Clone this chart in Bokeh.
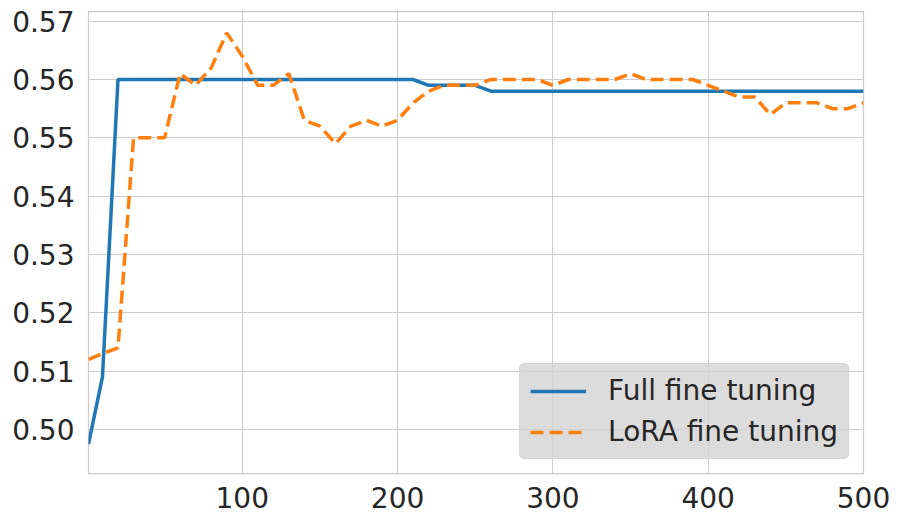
from bokeh.plotting import figure
from bokeh.models import Range1d, FixedTicker, PrintfTickFormatter, Legend, LegendItem
from bokeh.embed import file_html
from bokeh.resources import INLINE

steps = [1] + list(range(10, 501, 10))
full_ft = [0.4975, 0.509] + [0.560] * 20 + [0.559] * 4 + [0.558] * 25
lora_ft = [0.512, 0.513, 0.514, 0.550, 0.550, 0.550, 0.561, 0.559, 0.562, 0.568,
           0.564, 0.559, 0.559, 0.561, 0.553, 0.552, 0.549, 0.552, 0.553, 0.552,
           0.553, 0.556, 0.558, 0.559, 0.559, 0.559, 0.560, 0.560, 0.560, 0.560,
           0.559, 0.560, 0.560, 0.560, 0.560, 0.561, 0.560, 0.560, 0.560, 0.560,
           0.559, 0.558, 0.557, 0.557, 0.554, 0.556, 0.556, 0.556, 0.555, 0.555,
           0.556]
x_ticks = [100, 200, 300, 400, 500]
y_ticks = [0.50, 0.51, 0.52, 0.53, 0.54, 0.55, 0.56, 0.57]
labels = ["Full fine tuning", "LoRA fine tuning"]

FONT = "DejaVu Sans"
TXT = "#262626"
GRID = "#cccccc"

p = figure(frame_width=775, frame_height=462, output_backend="svg", toolbar_location=None,
           x_range=Range1d(1, 500), y_range=Range1d(0.49245, 0.57166),
           min_border_left=88, min_border_right=38, min_border_top=11, min_border_bottom=49)
p.background_fill_color = "white"
p.border_fill_color = "white"
p.outline_line_color = GRID
p.outline_line_width = 1.25

for ax in (p.xaxis[0], p.yaxis[0]):
    ax.axis_line_color = None
    ax.major_tick_line_color = None
    ax.minor_tick_line_color = None
    ax.major_label_text_font = FONT
    ax.major_label_text_font_size = "28px"
    ax.major_label_text_color = TXT
p.xaxis[0].ticker = FixedTicker(ticks=x_ticks)
p.yaxis[0].ticker = FixedTicker(ticks=y_ticks)
p.yaxis[0].formatter = PrintfTickFormatter(format="%.2f")
p.xaxis[0].major_label_standoff = 7
p.yaxis[0].major_label_standoff = 8

p.xgrid.grid_line_color = GRID
p.ygrid.grid_line_color = GRID
p.xgrid.grid_line_width = 1
p.ygrid.grid_line_width = 1

r1 = p.line(steps, full_ft, line_color="#1f77b4", line_width=3.5)
r2 = p.line(steps, lora_ft, line_color="#ff7f0e", line_width=3.5, line_dash="13 6")

legend = Legend(items=[LegendItem(label=labels[0], renderers=[r1]),
                       LegendItem(label=labels[1], renderers=[r2])],
                location="bottom_right", margin=14, padding=10, spacing=8,
                glyph_width=56, glyph_height=30, label_height=30, label_standoff=22,
                label_text_font=FONT, label_text_font_size="28px", label_text_color=TXT,
                background_fill_color="lightgray", background_fill_alpha=0.8,
                border_line_color="lightgray", border_line_alpha=0.8)
try:
    legend.border_radius = 5
except Exception:
    pass
p.add_layout(legend, "center")

open("out.html", "w").write(file_html(p, INLINE))
